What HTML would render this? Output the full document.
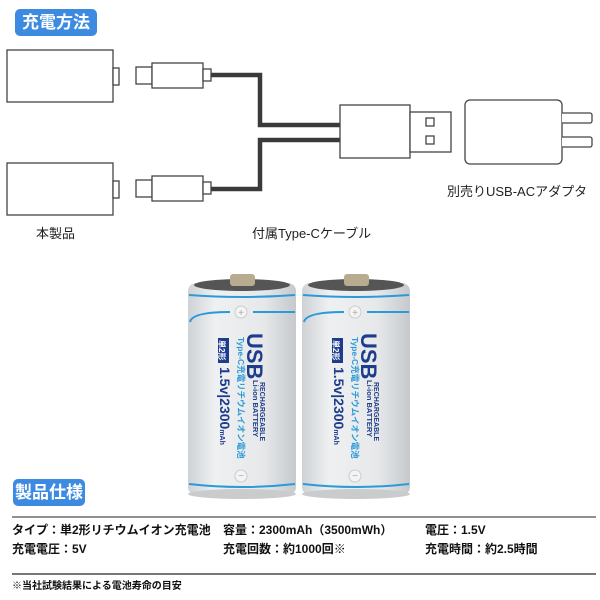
<!DOCTYPE html>
<html><head><meta charset="utf-8"><style>
html,body{margin:0;padding:0;background:#fff;}
body{width:600px;height:600px;position:relative;overflow:hidden;font-family:"Liberation Sans","Noto Sans CJK JP",sans-serif;}
.t{position:absolute;white-space:nowrap;color:#222;}
.badge{position:absolute;background:#3d8be0;color:#fff;font-weight:bold;border-radius:5px;text-align:center;font-size:17px;line-height:27px;}
.spec{position:absolute;font-size:12px;font-weight:bold;color:#111;white-space:nowrap;}
</style></head><body>
<div class="badge" style="left:15px;top:9px;width:82px;height:27px;">充電方法</div>
<svg width="600" height="600" style="position:absolute;left:0;top:0" xmlns="http://www.w3.org/2000/svg">
<g fill="#fff" stroke="#444" stroke-width="1.3">
<rect x="7" y="50" width="106" height="52"/>
<rect x="113" y="68" width="6" height="17"/>
<rect x="136" y="67" width="16" height="17"/>
<rect x="152" y="63" width="51" height="25"/>
<rect x="203" y="69" width="8" height="12"/>
<rect x="7" y="163" width="106" height="52"/>
<rect x="113" y="181" width="6" height="17"/>
<rect x="136" y="180" width="16" height="17"/>
<rect x="152" y="176" width="51" height="25"/>
<rect x="203" y="182" width="8" height="12"/>
</g>
<g fill="none" stroke="#3a3a3a" stroke-width="4.5">
<polyline points="211,75 260,75 260,125 340,125"/>
<polyline points="211,189 260,189 260,140 340,140"/>
</g>
<g fill="#fff" stroke="#444" stroke-width="1.3">
<rect x="340" y="105" width="70" height="53"/>
<rect x="410" y="112" width="41" height="40"/>
<rect x="426" y="118" width="8" height="8"/>
<rect x="426" y="136" width="8" height="8"/>
<rect x="465" y="100" width="97" height="64" rx="5"/>
<path d="M562,113 H590 a2,2 0 0 1 2,2 V121 a2,2 0 0 1 -2,2 H562"/>
<path d="M562,137 H590 a2,2 0 0 1 2,2 V145 a2,2 0 0 1 -2,2 H562"/>
</g>
<defs>
<linearGradient id="bg" x1="0" x2="1" y1="0" y2="0">
<stop offset="0" stop-color="#cfd2d5"/><stop offset="0.25" stop-color="#eef0f1"/><stop offset="0.7" stop-color="#e6e8ea"/><stop offset="1" stop-color="#c6c9cc"/>
</linearGradient>
</defs>
<g id="bat">
<rect x="188" y="283" width="108" height="212" rx="8" fill="url(#bg)"/>
<ellipse cx="242" cy="494" rx="54" ry="5" fill="#c9cbcd"/>
<ellipse cx="242" cy="285" rx="48" ry="6" fill="#555"/>
<rect x="230" y="274" width="25" height="12" rx="3" fill="#b8ac90"/>
<path d="M189,295 Q242,299 295,295" stroke="#2a9ad8" stroke-width="2" fill="none"/>
<path d="M190,322 Q192,312 230,312 M253,312 L295,312" stroke="#2a9ad8" stroke-width="2" fill="none"/>
<circle cx="241" cy="312" r="6" fill="#f4f4f4" stroke="#ccc"/>
<text x="241" y="316" font-size="10" text-anchor="middle" fill="#aaa">+</text>
<circle cx="241" cy="476" r="6" fill="#f4f4f4" stroke="#ccc"/>
<text x="241" y="479" font-size="10" text-anchor="middle" fill="#aaa">−</text>
<path d="M189,484 Q242,490 295,484" stroke="#2a9ad8" stroke-width="2" fill="none"/>
<g font-family="Liberation Sans, Noto Sans CJK JP, sans-serif" font-weight="bold">
<text transform="translate(247,333) rotate(90)" font-size="22" fill="#1e3c8c">USB</text>
<text transform="translate(260,382) rotate(90)" font-size="7" fill="#1e3c8c">RECHARGEABLE</text>
<text transform="translate(253,380) rotate(90)" font-size="7.5" fill="#1e3c8c">Li-ion BATTERY</text>
<text transform="translate(238,337) rotate(90)" font-size="8.5" fill="#2a9ad8">Type-C充電リチウムイオン電池</text>
<rect x="218" y="338" width="11" height="25" fill="#1e3c8c"/>
<text transform="translate(219,340) rotate(90)" font-size="8" fill="#fff">単2形</text>
<text transform="translate(220,367) rotate(90)" font-size="14" fill="#1e3c8c">1.5v|2300<tspan font-size="7">mAh</tspan></text>
</g>
</g>
<use href="#bat" transform="translate(114,0)"/>
<line x1="12" y1="517" x2="596" y2="517" stroke="#222" stroke-width="1"/>
<line x1="12" y1="574" x2="596" y2="574" stroke="#777" stroke-width="2"/>
</svg>
<div class="t" style="left:447px;top:181px;font-size:13px;">別売りUSB-ACアダプタ</div>
<div class="t" style="left:36px;top:223px;font-size:13px;">本製品</div>
<div class="t" style="left:252px;top:223px;font-size:13px;">付属Type-Cケーブル</div>
<div class="badge" style="left:13px;top:479px;width:72px;height:27px;">製品仕様</div>
<div class="spec" style="left:12px;top:521px;">タイプ：単2形リチウムイオン充電池</div>
<div class="spec" style="left:223px;top:521px;">容量：2300mAh（3500mWh）</div>
<div class="spec" style="left:425px;top:521px;">電圧：1.5V</div>
<div class="spec" style="left:12px;top:540px;">充電電圧：5V</div>
<div class="spec" style="left:223px;top:540px;">充電回数：約1000回※</div>
<div class="spec" style="left:425px;top:540px;">充電時間：約2.5時間</div>
<div class="spec" style="left:12px;top:577px;font-size:10px;">※当社試験結果による電池寿命の目安</div>
</body></html>
